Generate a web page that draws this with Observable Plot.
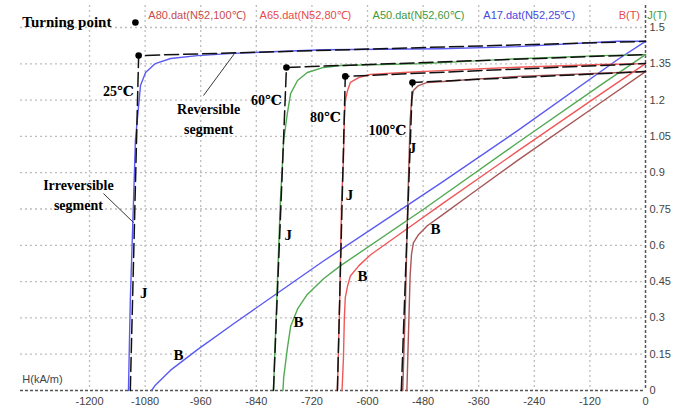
<!DOCTYPE html>
<html><head><meta charset="utf-8">
<script src="https://cdn.jsdelivr.net/npm/d3@7"></script>
<script src="https://cdn.jsdelivr.net/npm/@observablehq/plot@0.6"></script>
<style>body{margin:0;background:#fff}</style>
</head><body><div id="chart"></div>
<script>
const xTicks = [-1200,-1080,-960,-840,-720,-600,-480,-360,-240,-120,0];
const xTickLabels = ["-1200","-1080","-960","-840","-720","-600","-480","-360","-240","-120","0"];
const yTicks = [0,0.15,0.3,0.45,0.6,0.75,0.9,1.05,1.2,1.35,1.5];
const yTickLabels = ["0","0.15","0.3","0.45","0.6","0.75","0.9","1.05","1.2","1.35","1.5"];
const temps = ["25℃","60℃","80℃","100℃"];
const legendNames = ["A80.dat(N52,100℃)","A65.dat(N52,80℃)","A50.dat(N52,60℃)","A17.dat(N52,25℃)"];

// J(H) curves, T
const H25 = [-1116,-1112,-1105,-1101,-1090,-1079,-1058,-1025,-967,-889,-794,-695,-442,-276,-60,0];
const J25 = [0,0.372,0.785,1.033,1.26,1.314,1.351,1.372,1.384,1.393,1.401,1.408,1.412,1.421,1.443,1.443];
const H60 = [-803,-796,-788,-781,-773,-766,-751,-730,-695,-658,-479,-276,-97,0];
const J60 = [0,0.372,0.785,1.033,1.145,1.227,1.281,1.314,1.335,1.343,1.351,1.371,1.384,1.388];
const H80 = [-665,-660,-656,-652,-650,-648,-643,-637,-619,-594,-522,-442,-276,-97,0];
const J80 = [0,0.372,0.785,0.95,1.116,1.198,1.24,1.273,1.293,1.306,1.314,1.322,1.336,1.347,1.351];
const H100 = [-524,-518,-513,-510.5,-508,-505,-501,-490,-471,-436,-378,-276,-97,0];
const J100 = [0,0.372,0.785,0.95,1.116,1.198,1.24,1.26,1.273,1.277,1.285,1.298,1.311,1.318];

// B(H) curves, T
const HB25 = [-1066,-1058,-1025,-967,-889,-794,-695,-442,-276,-60,0];
const B25 = [0,0.022,0.084,0.169,0.276,0.403,0.535,0.857,1.074,1.368,1.443];
const HB60 = [-782.5,-781,-773,-766,-751,-730,-695,-658,-479,-276,-97,0];
const B60 = [0,0.052,0.174,0.264,0.337,0.397,0.462,0.516,0.749,1.024,1.262,1.388];
const HB80 = [-655,-652,-650,-648,-643,-637,-619,-594,-522,-442,-276,-97,0];
const B80 = [0,0.131,0.299,0.384,0.432,0.473,0.515,0.56,0.658,0.767,0.989,1.225,1.351];
const HB100 = [-515,-513,-510.5,-508,-505,-501,-490,-471,-436,-378,-276,-97,0];
const B100 = [0,0.14,0.309,0.478,0.563,0.61,0.644,0.681,0.729,0.81,0.951,1.189,1.318];

// fitted two-segment model: irreversible foot, turning point, reversible end
const fitFootH = [-1112,-803,-665,-527];
const turnH = [-1094,-775,-648,-503];
const turnJ = [1.384,1.335,1.298,1.273];
const fitEndJ = [1.443,1.388,1.351,1.318];

const colors = ["#5a5af2","#52aa52","#f05858","#a85656"];

const jSets = [[H25,J25],[H60,J60],[H80,J80],[H100,J100]];
const bSets = [[HB25,B25],[HB60,B60],[HB80,B80],[HB100,B100]];
const jRows = jSets.flatMap(([h,v],i)=>h.map((x,k)=>({x,y:v[k],s:temps[i]})));
const bRows = bSets.flatMap(([h,v],i)=>h.map((x,k)=>({x,y:v[k],s:temps[i]})));
const fitRows = temps.flatMap((s,i)=>[
  {x:fitFootH[i],y:0,s},{x:turnH[i],y:turnJ[i],s},{x:0,y:fitEndJ[i],s}]);
const turnRows = temps.map((s,i)=>({x:turnH[i],y:turnJ[i]}));

const serif = "'Liberation Serif','Times New Roman','DejaVu Serif',serif";
const sans = "'Liberation Sans',Arial,sans-serif";
const colorScale = {domain: temps, range: colors};

const chart = Plot.plot({
  width: 691, height: 414,
  marginLeft: 20, marginRight: 46, marginTop: 5, marginBottom: 24,
  x: {domain: [-1349, 0]},
  y: {domain: [0, 1.591]},
  color: colorScale,
  style: {background: "#fff", fontFamily: sans},
  marks: [
    Plot.ruleX(xTicks.slice(0,-1), {stroke:"#bdbdbd", strokeWidth:1.3, strokeDasharray:"2,3"}),
    Plot.ruleY(yTicks.slice(1), {stroke:"#bdbdbd", strokeWidth:1.3, strokeDasharray:"2,3"}),
    Plot.ruleY([0], {stroke:"#555", strokeWidth:1.5, strokeDasharray:"3,2"}),
    Plot.ruleX([0], {stroke:"#555", strokeWidth:1.5, strokeDasharray:"3,2"}),
    Plot.axisX({ticks: xTicks, tickSize: 0, tickPadding: 7, fontSize: 11, fill: "#444", label: null,
      tickFormat: d => xTickLabels[xTicks.indexOf(d)]}),
    Plot.axisY({ticks: yTicks, anchor: "right", tickSize: 0, tickPadding: 4, fontSize: 11, fill: "#444", label: null,
      tickFormat: d => yTickLabels[yTicks.indexOf(d)]}),
    Plot.line(bRows, {x:"x", y:"y", z:"s", stroke:"s", strokeWidth:1.4}),
    Plot.line(jRows, {x:"x", y:"y", z:"s", stroke:"s", strokeWidth:1.4}),
    Plot.line(fitRows, {x:"x", y:"y", z:"s", stroke:"#111", strokeWidth:1.5, strokeDasharray:"14,5"}),
    Plot.dot(turnRows, {x:"x", y:"y", r:3.3, fill:"#000"}),
    // legend row
    Plot.text(legendNames.map((t,i)=>({t,x:[-1073,-833,-589,-350][i],c:["#c84c4c","#e64a4a","#3f9a3f","#4747dc"][i]})),
      {x:"x", y:()=>1.55, text:"t", fill:"c", textAnchor:"start", fontSize:11}),
    Plot.text([{x:-58,t:"B(T)",c:"#e64a4a"},{x:4,t:"J(T)",c:"#3f9a3f"}],
      {x:"x", y:()=>1.55, text:"t", fill:"c", textAnchor:"start", fontSize:11}),
    Plot.text([{x:-1345,y:0.045,t:"H(kA/m)"}], {x:"x", y:"y", text:"t", textAnchor:"start", fontSize:11, fill:"#444"}),
    // annotations
    Plot.text([{x:-1345,y:1.521,t:"Turning point"}], {x:"x", y:"y", text:"t", textAnchor:"start", fontFamily:serif, fontWeight:"bold", fontSize:15, fill:"#000"}),
    Plot.dot([{x:-1101,y:1.521}], {x:"x", y:"y", r:3.3, fill:"#000"}),
    Plot.text([
      {x:-1137.5,y:1.236,t:temps[0]},{x:-818,y:1.198,t:temps[1]},
      {x:-691,y:1.128,t:temps[2]},{x:-557,y:1.074,t:temps[3]}],
      {x:"x", y:"y", text:"t", fontFamily:serif, fontWeight:"bold", fontSize:14, fill:"#000"}),
    Plot.text([{x:-943,y:1.128,t:"Reversible\nsegment"},{x:-1224,y:0.812,t:"Irreversible\nsegment"}],
      {x:"x", y:"y", text:"t", fontFamily:serif, fontWeight:"bold", fontSize:14, lineHeight:1.4, fill:"#000"}),
    Plot.link([{x1:-954,y1:1.219,x2:-887,y2:1.393},{x1:-1170,y1:0.814,x2:-1105,y2:0.694}],
      {x1:"x1", y1:"y1", x2:"x2", y2:"y2", stroke:"#222", strokeWidth:0.9}),
    Plot.text([
      {x:-1083,y:0.401,t:"J"},{x:-771,y:0.64,t:"J"},{x:-639,y:0.806,t:"J"},{x:-503,y:1.0,t:"J"},
      {x:-1008,y:0.145,t:"B"},{x:-749,y:0.281,t:"B"},{x:-611,y:0.471,t:"B"},{x:-453,y:0.665,t:"B"}],
      {x:"x", y:"y", text:"t", fontFamily:serif, fontWeight:"bold", fontSize:15, fill:"#000"})
  ]
});
document.getElementById("chart").appendChild(chart);
</script>
</body></html>
